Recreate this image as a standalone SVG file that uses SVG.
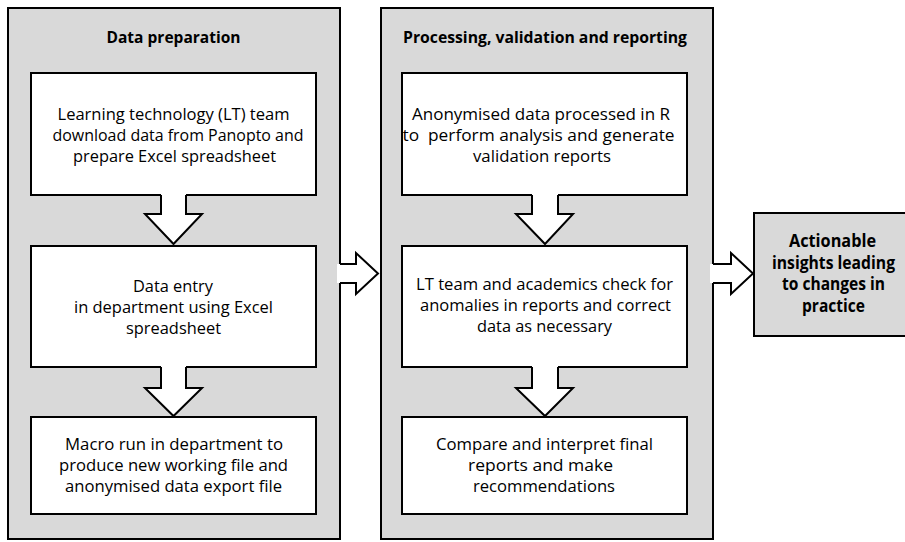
<svg xmlns="http://www.w3.org/2000/svg" width="905" height="542" viewBox="0 0 905 542">
<style>
.panel{fill:#d9d9d9;stroke:#000;stroke-width:2}
.box{fill:#fff;stroke:#000;stroke-width:2}
.t{font-family:"Open Sans","Liberation Sans",sans-serif;font-size:16px;fill:#000;text-anchor:middle}
.h{font-family:"Open Sans","Liberation Sans",sans-serif;font-size:16px;font-weight:bold;fill:#000;text-anchor:middle}
.ha{font-family:"Open Sans","Liberation Sans",sans-serif;font-size:17px;font-weight:bold;fill:#000;text-anchor:middle}
.af{fill:#fff;stroke:none}
.as{fill:none;stroke:#000;stroke-width:2;stroke-linejoin:miter}
</style>
<rect width="905" height="542" fill="#fff"/>
<g id="panel-prep">
<rect class="panel" x="8" y="8" width="332" height="531"/>
<text class="h" x="173.5" y="43" textLength="134" lengthAdjust="spacingAndGlyphs">Data preparation</text>
</g>
<g id="panel-proc">
<rect class="panel" x="381" y="8" width="332" height="531"/>
<text class="h" x="545" y="43" textLength="284" lengthAdjust="spacingAndGlyphs">Processing, validation and reporting</text>
</g>
<g id="node-download">
<rect class="box" x="31" y="73" width="285" height="122"/>
<text class="t" x="173.5" y="120" textLength="232" lengthAdjust="spacingAndGlyphs">Learning technology (LT) team</text>
<text class="t" x="178" y="141" textLength="251" lengthAdjust="spacingAndGlyphs">download data from Panopto and</text>
<text class="t" x="174.5" y="162" textLength="203" lengthAdjust="spacingAndGlyphs">prepare Excel spreadsheet</text>
</g>
<g id="node-entry">
<rect class="box" x="31" y="246" width="285" height="121"/>
<text class="t" x="173" y="292" textLength="80" lengthAdjust="spacingAndGlyphs">Data entry</text>
<text class="t" x="173.5" y="313" textLength="199" lengthAdjust="spacingAndGlyphs">in department using Excel</text>
<text class="t" x="173.5" y="334" textLength="95" lengthAdjust="spacingAndGlyphs">spreadsheet</text>
</g>
<g id="node-macro">
<rect class="box" x="31" y="417" width="285" height="97"/>
<text class="t" x="174" y="450" textLength="218" lengthAdjust="spacingAndGlyphs">Macro run in department to</text>
<text class="t" x="173.5" y="471" textLength="229" lengthAdjust="spacingAndGlyphs">produce new working file and</text>
<text class="t" x="173.5" y="492" textLength="217" lengthAdjust="spacingAndGlyphs">anonymised data export file</text>
</g>
<g id="node-process">
<rect class="box" x="402" y="73" width="285" height="122"/>
<text class="t" x="541" y="120" textLength="258" lengthAdjust="spacingAndGlyphs">Anonymised data processed in R</text>
<text class="t" x="538.5" y="141" textLength="272" lengthAdjust="spacingAndGlyphs" xml:space="preserve">to  perform analysis and generate</text>
<text class="t" x="542" y="162" textLength="138" lengthAdjust="spacingAndGlyphs">validation reports</text>
</g>
<g id="node-check">
<rect class="box" x="402" y="246" width="285" height="121"/>
<text class="t" x="544.5" y="290" textLength="257" lengthAdjust="spacingAndGlyphs">LT team and academics check for</text>
<text class="t" x="545.5" y="311" textLength="251" lengthAdjust="spacingAndGlyphs">anomalies in reports and correct</text>
<text class="t" x="544.5" y="332" textLength="135" lengthAdjust="spacingAndGlyphs">data as necessary</text>
</g>
<g id="node-compare">
<rect class="box" x="402" y="417" width="285" height="97"/>
<text class="t" x="544.5" y="450" textLength="217" lengthAdjust="spacingAndGlyphs">Compare and interpret final</text>
<text class="t" x="540.5" y="471" textLength="145" lengthAdjust="spacingAndGlyphs">reports and make</text>
<text class="t" x="544" y="492" textLength="142" lengthAdjust="spacingAndGlyphs">recommendations</text>
</g>
<g id="node-insights">
<rect class="panel" x="754" y="213" width="160" height="123"/>
<text class="ha" x="832.5" y="247" textLength="87" lengthAdjust="spacingAndGlyphs">Actionable</text>
<text class="ha" x="833.5" y="268.5" textLength="123" lengthAdjust="spacingAndGlyphs">insights leading</text>
<text class="ha" x="833.5" y="290" textLength="103" lengthAdjust="spacingAndGlyphs">to changes in</text>
<text class="ha" x="833.5" y="311.5" textLength="63" lengthAdjust="spacingAndGlyphs">practice</text>
</g>
<g id="connectors">
<polygon class="af" points="161,192 186,192 186,214 202,214 173.5,244 145,214 161,214"/>
<polyline class="as" points="161,195 161,214 145,214 173.5,244 202,214 186,214 186,195"/>
<polygon class="af" points="161,364 186,364 186,388 202,388 173.5,416 145,388 161,388"/>
<polyline class="as" points="161,367 161,388 145,388 173.5,416 202,388 186,388 186,367"/>
<polygon class="af" points="532,192 558,192 558,214 573,214 545,244 516,214 532,214"/>
<polyline class="as" points="532,195 532,214 516,214 545,244 573,214 558,214 558,195"/>
<polygon class="af" points="532,364 558,364 558,388 573,388 545,416 516,388 532,388"/>
<polyline class="as" points="532,367 532,388 516,388 545,416 573,388 558,388 558,367"/>
<polygon class="af" points="337,264 356,264 356,253 378,273.5 356,294 356,283 337,283"/>
<polyline class="as" points="340,264 356,264 356,253 378,273.5 356,294 356,283 340,283"/>
<polygon class="af" points="710,264 731,264 731,253 753,273.5 731,294 731,283 710,283"/>
<polyline class="as" points="713,264 731,264 731,253 753,273.5 731,294 731,283 713,283"/>
</g>
</svg>
